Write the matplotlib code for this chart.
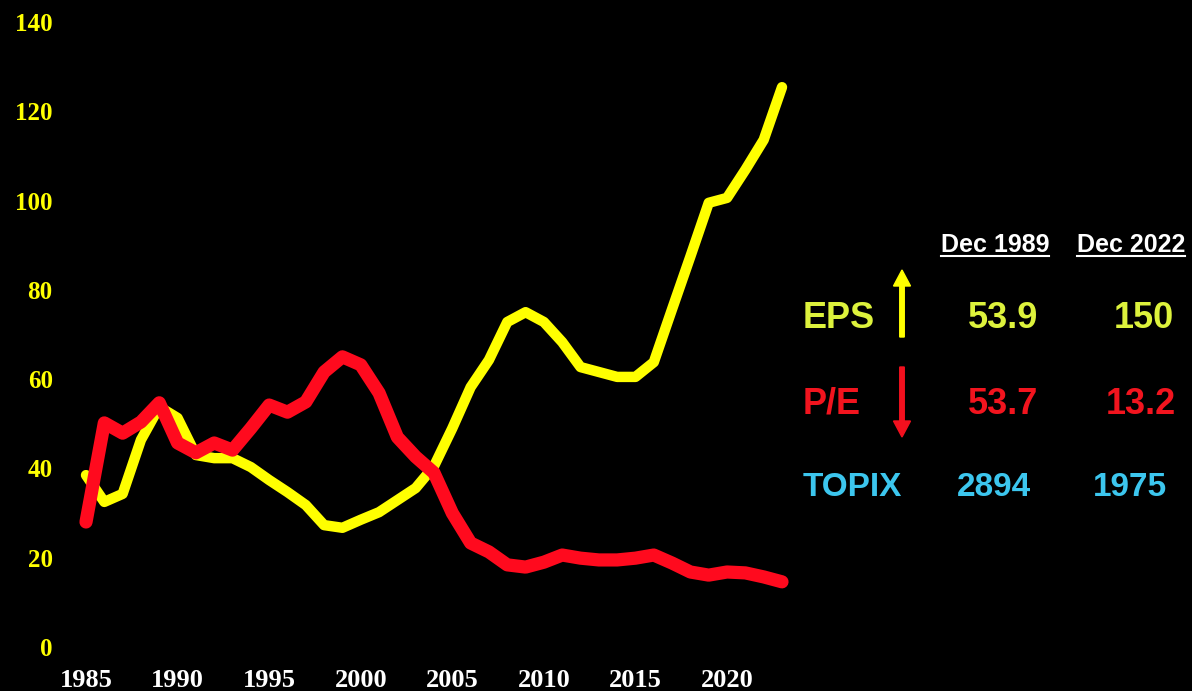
import matplotlib.pyplot as plt
import numpy as np

# yearly values
years = np.arange(1985, 2024)
eps = [38.5, 32.5, 34.3, 46.4, 53.8, 51.3, 43.0, 42.3, 42.3, 40.3,
       37.4, 34.7, 31.8, 27.3, 26.7, 28.5, 30.2, 32.9, 35.6, 40.5,
       49.0, 58.2, 64.3, 72.8, 75.0, 72.8, 68.3, 62.7, 61.6, 60.5,
       60.5, 63.8, 75.7, 87.5, 99.5, 100.6, 106.9, 113.6, 125.4]
pe = [28.0, 50.2, 47.9, 50.4, 54.7, 45.7, 43.5, 45.7, 44.1, 49.0,
      54.2, 52.6, 54.9, 61.6, 65.0, 63.2, 56.9, 47.0, 42.6, 39.0,
      30.0, 23.3, 21.3, 18.4, 17.9, 19.0, 20.6, 19.9, 19.5, 19.5,
      19.9, 20.6, 18.8, 16.8, 16.1, 16.8, 16.6, 15.7, 14.6]

x_ticks = [1985, 1990, 1995, 2000, 2005, 2010, 2015, 2020]
y_ticks = [0, 20, 40, 60, 80, 100, 120, 140]

# side table
col_headers = ["Dec 1989", "Dec 2022"]
row_names = ["EPS", "P/E", "TOPIX"]
val_1989 = ["53.9", "53.7", "2894"]
val_2022 = ["150", "13.2", "1975"]
row_colors = ["#DDF23C", "#F2141E", "#3CC6EE"]

W, H = 1192, 691
fig = plt.figure(figsize=(W / 100, H / 100), dpi=100, facecolor="black")

# axes placed so 1985 -> px 86, 2023 -> px 782, 0 -> px 647, 140 -> px 22
ax = fig.add_axes([86 / W, (H - 647) / H, (782 - 86) / W, 625 / H])
ax.set_facecolor("black")
ax.plot(years, eps, color="#FFFF00", lw=7.5, solid_capstyle="round",
        solid_joinstyle="round", clip_on=False, zorder=2)
ax.plot(years, pe, color="#FF0A1E", lw=9.5, solid_capstyle="round",
        solid_joinstyle="round", clip_on=False, zorder=3)
ax.set_xlim(1985, 2023)
ax.set_ylim(0, 140)
for s in ax.spines.values():
    s.set_visible(False)
ax.set_xticks(x_ticks)
ax.set_yticks(y_ticks)
ax.tick_params(length=0)
ax.tick_params(axis="x", pad=16, colors="white")
ax.tick_params(axis="y", pad=24, colors="#FFFF00")
for lab in ax.get_xticklabels():
    lab.set_fontfamily("Liberation Serif")
    lab.set_fontweight("bold")
    lab.set_fontsize(19)
    lab.set_color("white")
for lab in ax.get_yticklabels():
    lab.set_fontfamily("Liberation Serif")
    lab.set_fontweight("bold")
    lab.set_fontsize(18)
    lab.set_color("#FFFF00")


def fx(px):
    return px / W


def fy(py):
    return (H - py) / H


# column headers, underlined
header_x = [995, 1131]
for hx, txt in zip(header_x, col_headers):
    t = fig.text(fx(hx), fy(245), txt, color="white", fontsize=18,
                 fontweight="bold", family="Liberation Sans",
                 ha="center", va="center")
    fig.canvas.draw()
    bb = t.get_window_extent().transformed(fig.transFigure.inverted())
    fig.add_artist(plt.Line2D([bb.x0, bb.x1], [fy(256), fy(256)],
                              color="white", lw=1.5,
                              transform=fig.transFigure))

row_y = [318, 404, 487]
row_size = [26, 26, 24]
col1_x = [1003, 1003, 994]
col2_x = [1144, 1141, 1130]
for i in range(3):
    kw = dict(color=row_colors[i], fontsize=row_size[i], fontweight="bold",
              family="Liberation Sans", va="center")
    fig.text(fx(803), fy(row_y[i]), row_names[i], ha="left", **kw)
    fig.text(fx(col1_x[i]), fy(row_y[i]), val_1989[i], ha="center", **kw)
    fig.text(fx(col2_x[i]), fy(row_y[i]), val_2022[i], ha="center", **kw)

# up / down arrows
fig.add_artist(plt.matplotlib.patches.FancyArrow(
    fx(902), fy(337), 0, fy(270) - fy(337), width=4.5 / W,
    head_width=17 / W, head_length=16 / H, length_includes_head=True,
    color="#FFFF00", transform=fig.transFigure))
fig.add_artist(plt.matplotlib.patches.FancyArrow(
    fx(902), fy(367), 0, fy(437) - fy(367), width=4.5 / W,
    head_width=17 / W, head_length=16 / H, length_includes_head=True,
    color="#F2101E", transform=fig.transFigure))

fig.savefig("out.png", dpi=100, facecolor="black")
